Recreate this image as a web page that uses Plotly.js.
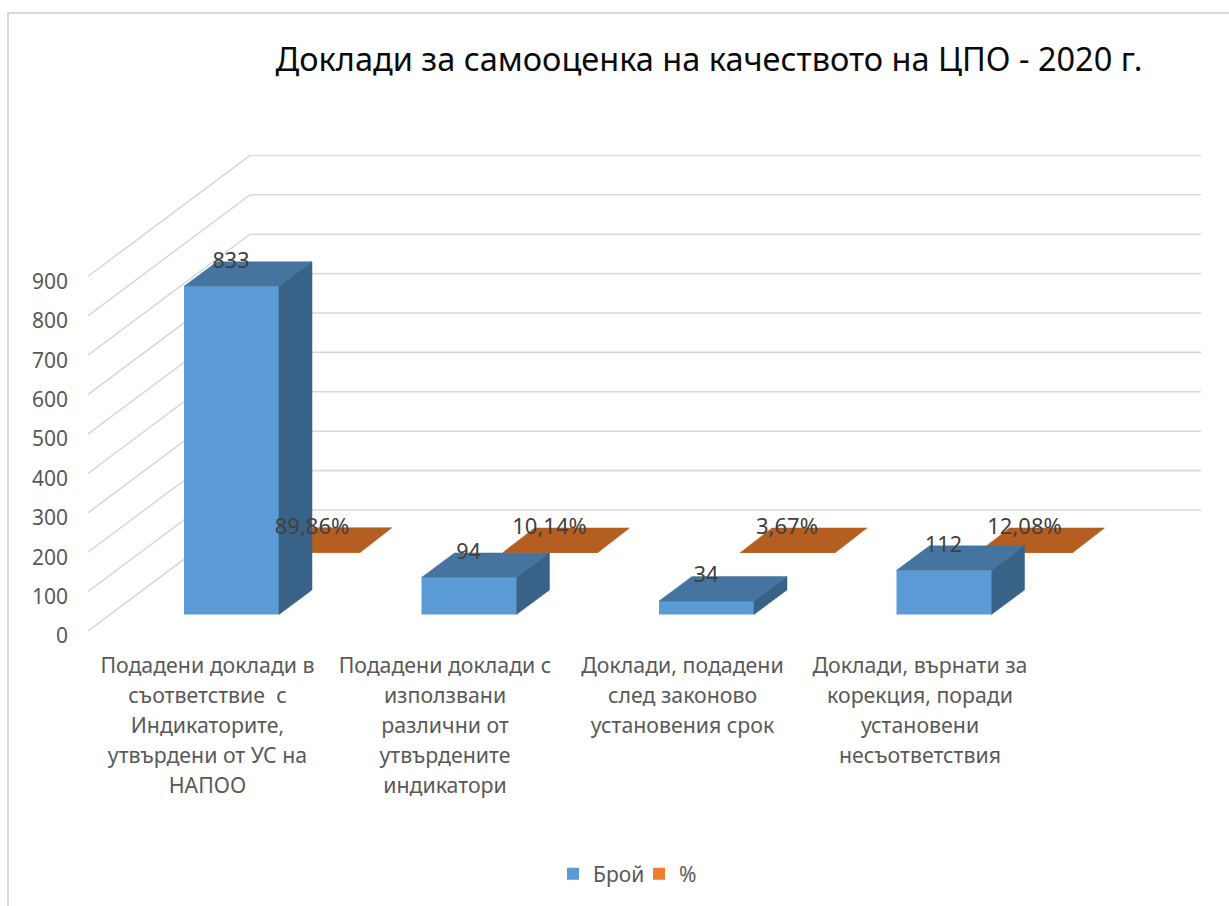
<!DOCTYPE html>
<html>
<head>
<meta charset="utf-8">
<script src="https://cdn.plot.ly/plotly-3.0.1.min.js"></script>
<style>html,body{margin:0;padding:0;background:#fff}#chart{width:1229px;height:906px}</style>
</head>
<body>
<div id="chart"></div>
<script>
// ---- data ----
const chartTitle = "Доклади за самооценка на качеството на ЦПО - 2020 г.";
const categories = [
  ["Подадени доклади в", "съответствие  с", "Индикаторите,", "утвърдени от УС на", "НАПОО"],
  ["Подадени доклади с", "използвани", "различни от", "утвърдените", "индикатори"],
  ["Доклади, подадени", "след законово", "установения срок"],
  ["Доклади, върнати за", "корекция, поради", "установени", "несъответствия"]
];
const seriesCountName = "Брой";
const seriesPctName = "%";
const countValues = [833, 94, 34, 112];
const pctValues = [0.8986, 0.1014, 0.0367, 0.1208];
const countLabels = ["833", "94", "34", "112"];
const pctLabels = ["89,86%", "10,14%", "3,67%", "12,08%"];
const yTicks = [0, 100, 200, 300, 400, 500, 600, 700, 800, 900];

// ---- page geometry ----
const W = 1229, H = 906;
const plotL = 88, plotR = 1201, plotT = 155, plotB = 631;
const pxPerCat = 237.5, pxPerVal = 0.394;
const cat0Px = 231.5;
const xRange = [(plotL - cat0Px) / pxPerCat, (plotR - cat0Px) / pxPerCat];
const yRange = [0, (plotB - plotT) / pxPerVal];
const px2x = p => p / pxPerCat;
const px2y = p => p / pxPerVal;

// oblique depth projection, expressed in axis units
const wallDx = px2x(162), wallDy = px2y(121);
const barW = px2x(95);
const countBase = px2y(16.5), pctBase = px2y(78.5);
const countDx = px2x(33), countDy = px2y(24.5);
const pctDx = px2x(31.5), pctDy = px2y(24.5);
const pctShift = px2x(81.5);
const tickShift = px2x(-24);
const idx = countValues.map((_, i) => i);

const blue = "#5b9bd5", blueTop = "#44749f", blueSide = "#386287";
const orange = "#ed7d31", orangeTop = "#b45e22";
const gridColor = "#d9d9d9";

// gridlines: front edge -> back wall -> right end
const gx = [], gy = [];
yTicks.forEach(v => {
  gx.push(xRange[0], xRange[0] + wallDx, xRange[1], null);
  gy.push(v, v + wallDy, v + wallDy, null);
});

function poly(x, y, color, xa, ya) {
  return {type: "scatter", mode: "lines", x: x, y: y, fill: "toself", fillcolor: color,
    line: {color: color, width: 0.5}, showlegend: false, hoverinfo: "skip", xaxis: xa, yaxis: ya};
}

const traces = [];
// legend-bearing front faces
traces.push({type: "bar", name: seriesCountName, x: idx, y: countValues,
  base: idx.map(() => countBase), width: barW, marker: {color: blue, line: {width: 0}},
  xaxis: "x2", yaxis: "y2", hoverinfo: "skip"});
traces.push({type: "bar", name: seriesPctName, x: idx.map(i => i + pctShift), y: pctValues,
  base: idx.map(() => pctBase), width: barW, marker: {color: orange, line: {width: 0}},
  xaxis: "x", yaxis: "y", hoverinfo: "skip"});
// walls
traces.push({type: "scatter", mode: "lines", x: gx, y: gy, line: {color: gridColor, width: 1.6},
  showlegend: false, hoverinfo: "skip", connectgaps: false, xaxis: "x", yaxis: "y"});
// flat % bars
idx.forEach(i => {
  const l = i + pctShift - barW / 2, r = l + barW, t = pctBase + pctValues[i];
  traces.push(poly([l, r, r + pctDx, l + pctDx, l], [t, t, t + pctDy, t + pctDy, t], orangeTop, "x", "y"));
});
// count bars, top + side
idx.forEach(i => {
  const l = i - barW / 2, r = l + barW, b = countBase, t = countBase + countValues[i];
  traces.push(poly([l, r, r + countDx, l + countDx, l], [t, t, t + countDy, t + countDy, t], blueTop, "x2", "y2"));
  traces.push(poly([r, r + countDx, r + countDx, r, r], [b, b + countDy, t + countDy, t, b], blueSide, "x2", "y2"));
});
// value labels
traces.push({type: "scatter", mode: "text", x: idx.map(i => i - px2x(0.5)),
  y: idx.map(i => countBase + countValues[i] + px2y(24)), text: countLabels,
  textposition: "middle center", textfont: {family: "Noto Sans, sans-serif", size: 21.5, color: "#404040"}, cliponaxis: false,
  showlegend: false, hoverinfo: "skip", xaxis: "x2", yaxis: "y2"});
traces.push({type: "scatter", mode: "text", x: idx.map(i => i + pctShift - px2x(1)),
  y: idx.map(i => pctBase + pctValues[i] + px2y(23.5)), text: pctLabels,
  textposition: "middle center", textfont: {family: "Noto Sans, sans-serif", size: 22, color: "#404040"}, cliponaxis: false,
  showlegend: false, hoverinfo: "skip", xaxis: "x2", yaxis: "y2"});

const xTickText = categories.map(lines =>
  lines.map(s => '<span style="font-size:21.3px">' + s + '</span>').join("<br>"));

const xPaper = p => (p - plotL) / (plotR - plotL);
const yPaper = p => (plotB - p) / (plotB - plotT);

const layout = {
  width: W, height: H, autosize: false,
  paper_bgcolor: "#ffffff", plot_bgcolor: "rgba(0,0,0,0)",
  margin: {l: plotL, r: W - plotR, t: plotT, b: H - plotB, pad: 0},
  barmode: "overlay",
  title: {text: chartTitle, x: 709 / W, xanchor: "center", xref: "container",
    y: 1 - 60 / H, yanchor: "middle", yref: "container",
    font: {family: "Noto Sans, sans-serif", size: 32.5, color: "#0a0a0a"}},
  xaxis: {range: xRange, tickmode: "array", tickvals: idx.map(i => i + tickShift), ticktext: xTickText,
    tickangle: 0, ticks: "", ticklabelstandoff: 18, showgrid: false, zeroline: false, showline: false,
    tickfont: {family: "Noto Sans, sans-serif", size: 23, color: "#595959"}, fixedrange: true},
  yaxis: {range: yRange, tickmode: "array", tickvals: yTicks, ticktext: yTicks.map(String),
    ticks: "", ticklabelstandoff: 19, ticklabelshift: 5, showgrid: false, zeroline: false, showline: false,
    tickfont: {family: "Noto Sans, sans-serif", size: 21, color: "#595959"}, fixedrange: true},
  xaxis2: {range: xRange, overlaying: "x", anchor: "y2", visible: false, fixedrange: true},
  yaxis2: {range: yRange, overlaying: "y", anchor: "x2", visible: false, fixedrange: true},
  legend: {orientation: "h", xref: "container", yref: "container", x: 553 / W, xanchor: "left",
    y: 1 - 874 / H, yanchor: "middle", bgcolor: "rgba(0,0,0,0)", traceorder: "normal",
    entrywidth: 41, entrywidthmode: "pixels",
    font: {family: "Noto Sans, sans-serif", size: 21, color: "#595959"}},
  shapes: [{type: "path", xref: "paper", yref: "paper",
    path: "M" + xPaper(8) + "," + yPaper(H) + " L" + xPaper(8) + "," + yPaper(13) + " L" + xPaper(W) + "," + yPaper(13),
    line: {color: gridColor, width: 2}, layer: "below"}],
  showlegend: true
};
Plotly.newPlot("chart", traces, layout, {displayModeBar: false, responsive: false});
</script>
</body>
</html>
